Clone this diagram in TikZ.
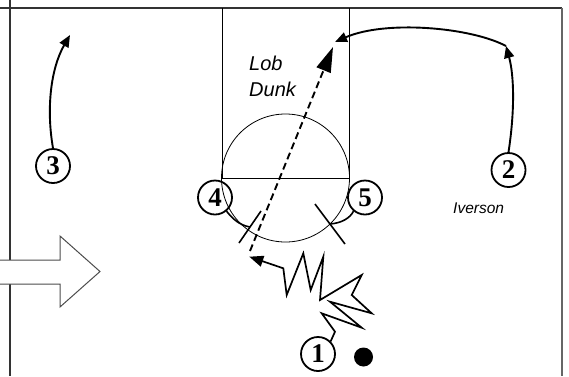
\documentclass[tikz,border=0pt]{standalone}
\usepackage{fontspec}
\setmainfont{Liberation Serif}
\newfontfamily\arialfont{Liberation Sans}
\usetikzlibrary{arrows.meta}
\begin{document}
\begin{tikzpicture}[x=1pt,y=-1pt,
  player/.style={circle,draw,line width=1.8pt,minimum size=34pt,inner sep=0pt,
    font=\fontsize{27}{27}\selectfont\bfseries},
  court/.style={draw=black!80,line width=1.5pt},
  lane/.style={draw=black,line width=0.9pt},
  cutarrow/.style={line width=1.9pt,-{Triangle[length=12pt,width=10pt]}},
  passarrow/.style={line width=1.9pt,dash pattern=on 7pt off 4pt,-{Triangle[length=25pt,width=15pt]}},
  dribble/.style={line width=1.7pt,-{Triangle[length=14pt,width=11pt]}},
  screen/.style={line width=1.6pt},
  label/.style={font=\arialfont\itshape\fontsize{20}{26}\selectfont,anchor=base west,inner sep=0pt},
  namelabel/.style={font=\arialfont\itshape\fontsize{15.5}{18}\selectfont,anchor=base west,inner sep=0pt},
  bigarrow/.style={draw=black!70,fill=white,line width=1pt}
]
\useasboundingbox (0,0) rectangle (569,376);
% court
\draw[court] (0,8) -- (562,8);
\draw[court] (10,0) -- (10,376);
\draw[court,draw=black!60] (562,8) -- (562,376);
% lane and circle
\draw[lane] (222,8) -- (222,178) -- (349,178) -- (349,8);
\draw[line width=0.8pt] (285.5,178) circle (64);
% big hollow arrow
\draw[bigarrow] (-5,260) -- (60,260) -- (60,236) -- (100,271.5) -- (60,307) -- (60,284) -- (-5,284);
% players
\node[player] (p1) at (318,354) {1};
\node[player] (p2) at (508.5,170) {2};
\node[player] (p3) at (53,166) {3};
\node[player] (p4) at (215,197.5) {4};
\node[player] (p5) at (365,197.5) {5};
\node[circle,fill,minimum size=19pt,inner sep=0pt] (ball) at (363.5,357) {};
% labels
\node[label] (lob) at (249,70.7) {Lob};
\node[label] (dunk) at (249,96.7) {Dunk};
\node[namelabel] (iverson) at (453,213) {Iverson};
% coordinates
\coordinate (c3end) at (70,35);
\coordinate (c2end) at (506,46);
\coordinate (cutend) at (335,42);
\coordinate (dribend) at (249.3,256.7);
\coordinate (passstart) at (250,251);
\coordinate (passend) at (333,47);
\coordinate (s4) at (250,227);
\coordinate (s5) at (330,224);
% cuts
\draw[cutarrow] (p3.north) .. controls (46,108) and (51,68) .. (c3end);
\draw[cutarrow] (p2.north) .. controls (515,110) and (514,75) .. (c2end);
\draw[cutarrow] (c2end) .. controls (470,27) and (385,20) .. (cutend);
% lob pass
\draw[passarrow] (passstart) -- (passend);
% dribble
\draw[dribble] (p1.north east) -- (335,331.7) -- (321.7,313.3) -- (361.7,327.7) -- (330,301.7)
  -- (371.7,313.3) -- (351.7,295) -- (361.7,275) -- (320,300) -- (323.3,256.7)
  -- (310.7,290) -- (303.3,253.3) -- (286.7,295) -- (283.3,268.3) -- (dribend);
% screens
\draw[screen] (p4.-50) .. controls (233,219) and (239,225) .. (s4);
\draw[screen] ([shift={(-11,16)}]s4) -- ([shift={(11,-16)}]s4);
\draw[screen] (p5.-130) .. controls (350,218) and (342,223) .. (s5);
\draw[screen] ([shift={(-15,-20)}]s5) -- ([shift={(15,20)}]s5);
\end{tikzpicture}
\end{document}
